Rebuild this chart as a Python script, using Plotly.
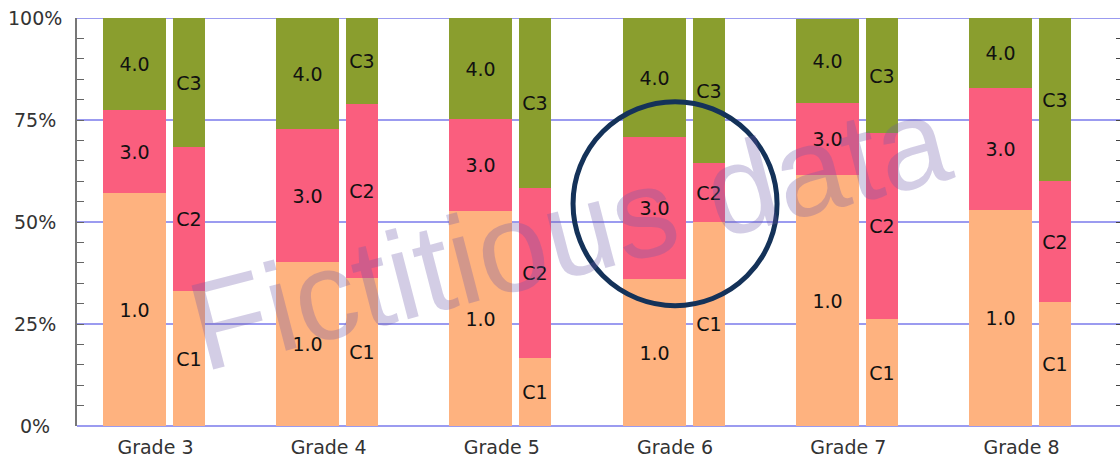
import plotly.graph_objects as go

# ---- data ----
grades = ["Grade 3", "Grade 4", "Grade 5", "Grade 6", "Grade 7", "Grade 8"]

wide_names = ["1.0", "3.0", "4.0"]
wide_1 = [57.0, 40.2, 52.7, 36.0, 61.5, 52.9]
wide_3 = [20.5, 32.6, 22.5, 34.8, 17.6, 29.9]
wide_4 = [22.5, 27.2, 24.8, 29.2, 20.7, 17.2]

narrow_names = ["C1", "C2", "C3"]
narrow_c1 = [33.1, 36.3, 16.7, 50.1, 26.2, 30.4]
narrow_c2 = [35.3, 42.7, 41.7, 14.4, 45.6, 29.6]
narrow_c3 = [31.6, 21.0, 41.6, 35.5, 28.2, 40.0]

y_ticks = [0, 25, 50, 75, 100]
y_tick_labels = ["0%", "25%", "50%", "75%", "100%"]

watermark = "Fictitious data"
highlight_grade = "Grade 6"
highlight_level = 54.5

# ---- style ----
colors = ["#FEB27F", "#FA5E7E", "#8A9E2E"]
FONT = "DejaVu Sans"
GRID = "#9B9BF0"
WIDE_OFFSET, WIDE_WIDTH = -0.303, 0.364
NARROW_OFFSET, NARROW_WIDTH = 0.101, 0.185


def stack_bases(series):
    bases = []
    run = [0.0] * len(series[0])
    for s in series:
        bases.append(list(run))
        run = [a + b for a, b in zip(run, s)]
    return bases


fig = go.Figure()

for names, series, off, wid in [
    (wide_names, [wide_1, wide_3, wide_4], WIDE_OFFSET, WIDE_WIDTH),
    (narrow_names, [narrow_c1, narrow_c2, narrow_c3], NARROW_OFFSET, NARROW_WIDTH),
]:
    bases = stack_bases(series)
    for name, vals, base, col in zip(names, series, bases, colors):
        fig.add_trace(go.Bar(
            x=grades, y=vals, base=base, name=name,
            offset=off, width=wid,
            marker=dict(color=col, line=dict(width=0)),
            text=[name] * len(grades),
            textposition="inside", insidetextanchor="middle", textangle=0,
            textfont=dict(family=FONT, size=19, color="#111111"),
            hoverinfo="skip", showlegend=False,
        ))

# helper trace so the right-hand tick axis is drawn
fig.add_trace(go.Scatter(x=[], y=[], yaxis="y2", showlegend=False, hoverinfo="skip"))

fig.update_layout(
    width=1120, height=458,
    margin=dict(l=77, r=0, t=18, b=32, autoexpand=False),
    paper_bgcolor="white", plot_bgcolor="white",
    barmode="overlay", bargap=0,
    font=dict(family=FONT, size=19, color="#333333"),
    uniformtext=dict(minsize=19, mode="show"),
    xaxis=dict(
        type="category", range=[-0.453, 5.569], automargin=False,
        showgrid=False, showline=False, zeroline=False,
        ticks="", ticklabelstandoff=8,
        tickfont=dict(family=FONT, size=19, color="#333333"),
    ),
    yaxis=dict(
        range=[0, 100], tickvals=y_ticks, showticklabels=False, automargin=False,
        showgrid=True, gridcolor=GRID, gridwidth=2,
        zeroline=True, zerolinecolor=GRID, zerolinewidth=2,
        showline=True, linecolor="#777777", linewidth=2,
        ticks="inside", ticklen=7, tickcolor="#666666", tickwidth=1,
        minor=dict(dtick=5, ticks="inside", ticklen=7, tickcolor="#666666",
                   tickwidth=1, showgrid=False),
    ),
    yaxis2=dict(
        overlaying="y", side="right", range=[0, 100], automargin=False,
        showgrid=False, zeroline=False, showline=False,
        showticklabels=False, tickvals=y_ticks,
        ticks="inside", ticklen=4, tickcolor="#444444",
        minor=dict(dtick=5, ticks="inside", ticklen=4, tickcolor="#444444"),
    ),
)

# top gridline (plotly omits the gridline at the range end)
fig.add_shape(type="line", xref="paper", yref="y", x0=0, x1=1,
              y0=y_ticks[-1], y1=y_ticks[-1],
              line=dict(color=GRID, width=2), layer="below")

# y tick labels, centred in the left margin like the reference
for v, lab in zip(y_ticks, y_tick_labels):
    fig.add_annotation(text=lab, xref="paper", yref="y", x=-0.0398, y=v,
                       xanchor="center", yanchor="middle", showarrow=False,
                       font=dict(family=FONT, size=19, color="#333333"))

fig.add_shape(
    type="circle", xref="x", yref="y",
    xsizemode="pixel", ysizemode="pixel",
    xanchor=highlight_grade, yanchor=highlight_level,
    x0=-102, x1=102, y0=-102, y1=102,
    line=dict(color="#143259", width=5), layer="above",
)

fig.add_annotation(
    text=watermark, xref="paper", yref="paper",
    x=0.4717, y=0.475, showarrow=False, textangle=-14.5,
    font=dict(family="Liberation Sans", size=126, color="rgba(110,90,170,0.30)"),
)

fig.write_html(
    "out.html",
    config={"displayModeBar": False},
    post_script="document.body.style.margin='0';document.body.style.overflow='hidden';",
)
